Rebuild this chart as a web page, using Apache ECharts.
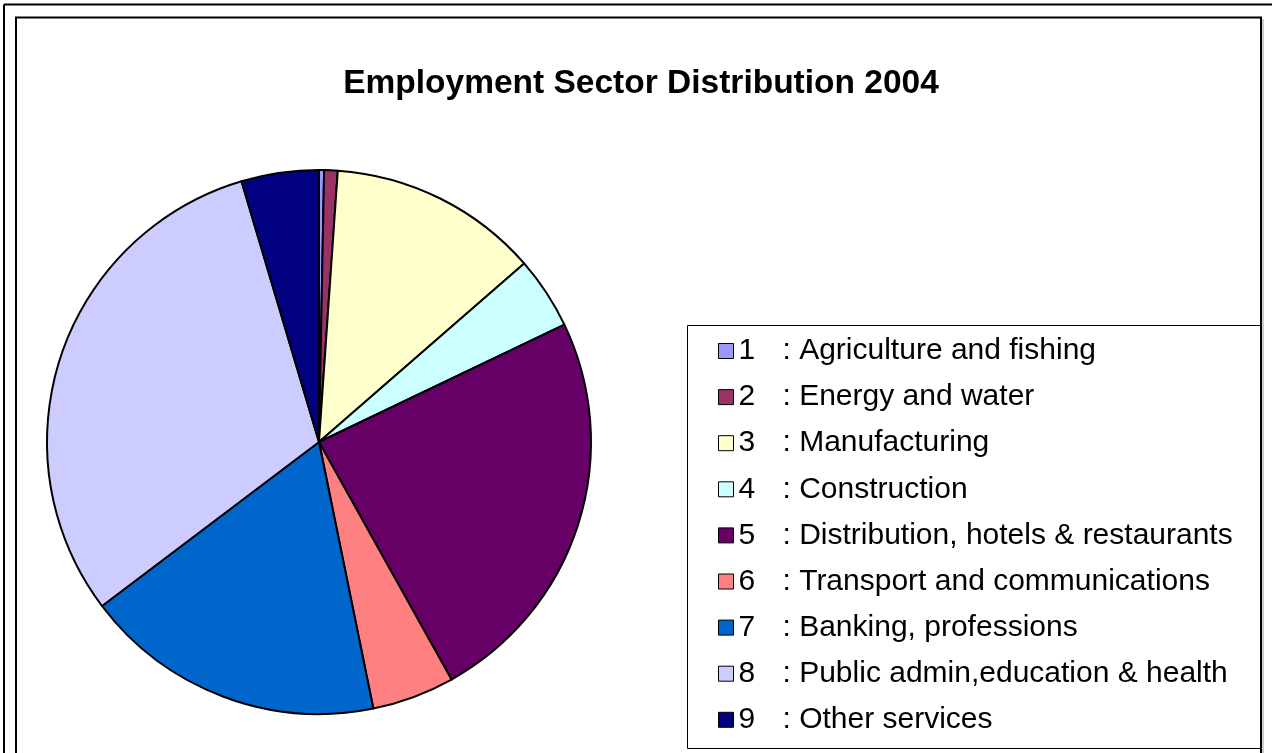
<!DOCTYPE html>
<html>
<head>
<meta charset="utf-8">
<script src="https://cdn.jsdelivr.net/npm/echarts@6/dist/echarts.min.js"></script>
<style>
  html, body { margin: 0; padding: 0; background: #fff; }
  #chart { width: 1272px; height: 753px; }
</style>
</head>
<body>
<div id="chart"></div>
<script>
// Employment by sector, share of total (%), 2004
const sectorCodes = ['1', '2', '3', '4', '5', '6', '7', '8', '9'];
const sectorNames = [
  'Agriculture and fishing',
  'Energy and water',
  'Manufacturing',
  'Construction',
  'Distribution, hotels & restaurants',
  'Transport and communications',
  'Banking, professions',
  'Public admin,education & health',
  'Other services'
];
const sectorShares = [0.3, 0.8, 12.5, 4.3, 24.0, 4.9, 17.9, 30.7, 4.6];
const sectorColors = ['#9999FF', '#993366', '#FFFFCC', '#CCFFFF', '#660066', '#FF8080', '#0066CC', '#CCCCFF', '#000080'];

const chartTitle = 'Employment Sector Distribution 2004';
const pageHeading = 'Employment by Sector';

const FONT = '"Liberation Sans", Arial, sans-serif';
const labelFor = (i) => sectorCodes[i] + ' : ' + sectorNames[i];

const pieData = sectorShares.map((v, i) => ({
  name: labelFor(i),
  value: v,
  itemStyle: { color: sectorColors[i] }
}));

const chart = echarts.init(document.getElementById('chart'), null, { renderer: 'canvas' });

chart.setOption({
  animation: false,
  backgroundColor: '#ffffff',
  graphic: [
    // heading of the page, running off the top edge
    {
      type: 'text', left: 153, top: -29, silent: true,
      style: { text: pageHeading, fill: '#000', font: 'bold 29.5px ' + FONT }
    },
    // outer sheet frame
    { type: 'line', silent: true, shape: { x1: 4, y1: 4.5, x2: 1272, y2: 4.5 }, style: { stroke: '#000', lineWidth: 2 } },
    { type: 'line', silent: true, shape: { x1: 4, y1: 4.5, x2: 4, y2: 753 }, style: { stroke: '#000', lineWidth: 2 } },
    // chart area frame with light shadow
    { type: 'line', silent: true, shape: { x1: 1263, y1: 19, x2: 1263, y2: 753 }, style: { stroke: '#999', lineWidth: 1 } },
    { type: 'rect', silent: true, shape: { x: 16, y: 17.5, width: 1245, height: 760 }, style: { fill: 'none', stroke: '#000', lineWidth: 2 } },
    // legend box
    { type: 'rect', silent: true, shape: { x: 687.5, y: 325.5, width: 573, height: 423 }, style: { fill: '#fff', stroke: '#000', lineWidth: 1 }, z: 1 },
    {
      type: 'text', silent: true, x: 641, y: 83.5,
      style: {
        text: chartTitle, fill: '#000', align: 'center', verticalAlign: 'middle',
        font: 'bold 33.5px ' + FONT
      }
    }
  ],
  legend: {
    orient: 'vertical',
    left: 718,
    top: 336,
    padding: 0,
    itemWidth: 15,
    itemHeight: 15,
    itemGap: 16.1,
    icon: 'rect',
    selectedMode: false,
    itemStyle: { borderColor: '#000', borderWidth: 1 },
    formatter: function (name) {
      const i = pieData.findIndex(d => d.name === name);
      return '{n|' + sectorCodes[i] + '}{t|: ' + sectorNames[i] + '}';
    },
    textStyle: {
      color: '#000',
      fontFamily: FONT,
      fontSize: 30,
      lineHeight: 30,
      rich: {
        n: { width: 44, fontSize: 30, fontFamily: FONT, color: '#000' },
        t: { fontSize: 30, fontFamily: FONT, color: '#000' }
      }
    },
    data: pieData.map(d => d.name),
    z: 5
  },
  series: [{
    type: 'pie',
    center: [319, 442],
    radius: 272,
    startAngle: 90,
    clockwise: true,
    avoidLabelOverlap: false,
    label: { show: false },
    labelLine: { show: false },
    emphasis: { disabled: true },
    itemStyle: { borderColor: '#000', borderWidth: 2 },
    data: pieData
  }]
});
</script>
</body>
</html>
